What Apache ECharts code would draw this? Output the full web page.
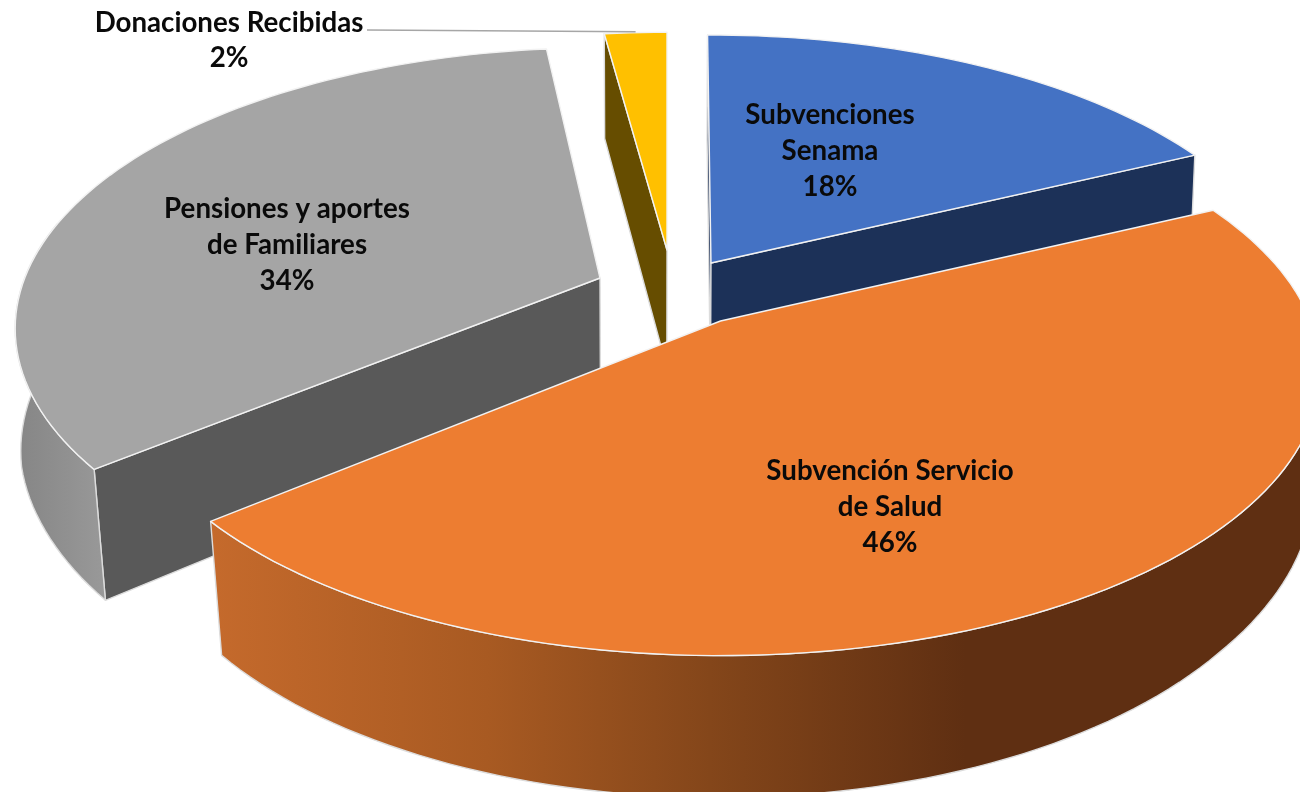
<!DOCTYPE html>
<html><head><meta charset="utf-8">
<style>html,body{margin:0;padding:0;background:#fff}#c{width:1300px;height:792px}</style>
<script src="https://cdn.jsdelivr.net/npm/echarts@6/dist/echarts.min.js"></script>
</head><body><div id="c"></div>
<script>
const categories = ['Subvenciones Senama','Subvención Servicio de Salud','Pensiones y aportes de Familiares','Donaciones Recibidas'];
const values = [18,46,34,2];
const labelLines = [['Subvenciones','Senama'],['Subvención Servicio','de Salud'],['Pensiones y aportes','de Familiares'],['Donaciones Recibidas']];
const topColors = ['#4472c4','#ed7d31','#a5a5a5','#ffc000'];
const wallColors = ['#1c3158','#5f2f12','#595959','#664d00'];

// layout: explosion apex, scale and small angular nudge for every slice
const layout = [
  {cx:711,cy:263,sx:0.98,sy:1,rot:-0.4,lx:830,ly:115},
  {cx:720.5,cy:321,sx:1,sy:1.02,rot:-0.6,lx:890,ly:471},
  {cx:600,cy:278,sx:0.975,sy:1.01,rot:0.9,lx:287,ly:209},
  {cx:667,cy:250,sx:1,sy:0.955,rot:0,lx:229,ly:23}
];
const A=590,B=269,P=0.18;
const drawOrder=[3,0,2,1];
const rimGrad=[
  null,
  {type:'linear',x:0,y:0,x2:1,y2:0,colorStops:[{offset:0,color:'#c56a2c'},{offset:0.25,color:'#a85a22'},{offset:0.45,color:'#84461a'},{offset:0.68,color:'#5f2f12'},{offset:1,color:'#5f2f12'}]},
  {type:'linear',x:0,y:0,x2:1,y2:0,colorStops:[{offset:0,color:'#858585'},{offset:1,color:'#999999'}]},
  null
];
const total=values.reduce((a,b)=>a+b,0);
let acc=0;
const sliceData=values.map((v,i)=>{const s=acc/total*360;acc+=v;return {i,start:s,end:acc/total*360};});
const seriesData=drawOrder.map(i=>({name:categories[i],value:[sliceData[i].start,sliceData[i].end,i,values[i]]}));

function rimPt(L,t){const r=t*Math.PI/180,X=Math.sin(r),Y=Math.cos(r),w=1+P*Y;
  return [L.cx+A*L.sx*X/w,L.cy-B*L.sy*Y/w];}
function low(p){const f=Math.min(1,Math.max(0.35,(p[1]-250)/270));
  return [p[0]-0.025*f*(p[0]-650),p[1]+105+0.06*(p[1]-38)];}
function arc(L,a,b){const n=Math.max(4,Math.ceil(Math.abs(b-a)/1.5)),o=[];
  for(let k=0;k<=n;k++)o.push(rimPt(L,a+(b-a)*k/n));return o;}

function renderItem(params,api){
  const a0=api.value(0),b0=api.value(1),i=api.value(2),v=api.value(3),L=layout[i];
  const a=a0+L.rot,b=b0+L.rot,c=[L.cx,L.cy],cl=low(c),ch=[];
  const poly=(pts,fill,stroke)=>ch.push({type:'polygon',shape:{points:pts},style:{fill,stroke,lineWidth:1.4,lineJoin:'round'}});
  const pa=rimPt(L,a),pb=rimPt(L,b);
  // a radial wall is only drawn when it faces the viewer
  if(Math.sin(a*Math.PI/180)<-1e-6) poly([c,pa,low(pa),cl],wallColors[i],'#dcdcdc');
  if(Math.sin(b*Math.PI/180)>1e-6) poly([c,pb,low(pb),cl],wallColors[i],'#dcdcdc');
  const ra=Math.max(a,88),rb=Math.min(b,282);
  if(rb>ra){const t=arc(L,ra,rb);poly(t.concat(t.map(low).reverse()),rimGrad[i]||wallColors[i],'#dcdcdc');}
  poly([c].concat(arc(L,a,b)),topColors[i],'#f2f2f2');
  const font='bold 27.7px Lato, Carlito, "Noto Sans", sans-serif';
  const lines=labelLines[i].concat([Math.round(v/total*100)+'%']);
  const step=i===3?35:36;
  lines.forEach((s,k)=>ch.push({type:'text',silent:true,style:{text:s,x:L.lx,y:L.ly+k*step,align:'center',verticalAlign:'middle',font,fill:'#0a0a0a'}}));
  if(i===3){const e=rimPt(L,(a+b)/2);
    ch.push({type:'polyline',silent:true,shape:{points:[[367,30],[e[0],e[1]-1]]},style:{stroke:'#a6a6a6',lineWidth:1.5,fill:null}});}
  return {type:'group',children:ch};
}
const chart=echarts.init(document.getElementById('c'),null,{renderer:'canvas',width:1300,height:792});
chart.setOption({animation:false,backgroundColor:'#fff',
  series:[{type:'custom',coordinateSystem:'none',renderItem,data:seriesData,clip:false,
    encode:{tooltip:[3]}}]});
</script></body></html>
